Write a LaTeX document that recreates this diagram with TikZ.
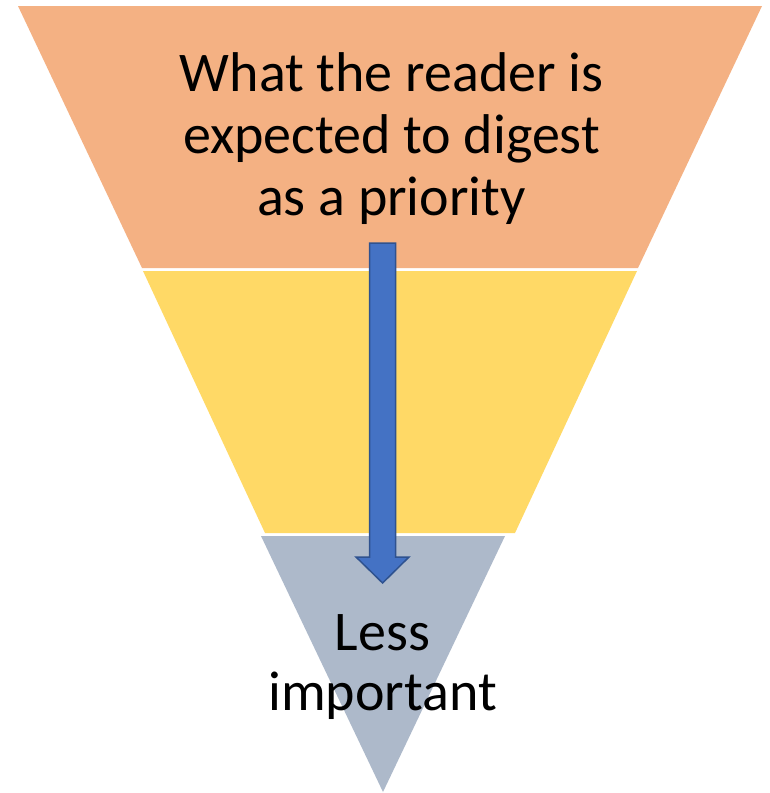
\documentclass[tikz,border=0pt]{standalone}
\usepackage{fontspec}
\setmainfont{Carlito}
\definecolor{bandorange}{HTML}{F4B183}
\definecolor{bandyellow}{HTML}{FFD966}
\definecolor{bandgray}{HTML}{ADB9CA}
\definecolor{arrowfill}{HTML}{4472C4}
\definecolor{arrowline}{HTML}{2F528F}
\begin{document}
\begin{tikzpicture}[x=1pt,y=-1pt,
  txt/.style={anchor=base,inner sep=0pt,font=\fontsize{56}{62}\selectfont,text=black},
  txtsmall/.style={anchor=base,inner sep=0pt,font=\fontsize{56}{60}\selectfont,text=black}]
\useasboundingbox[fill=white] (0,0) rectangle (769,793);
\fill[bandorange] (18,6) -- (762,6) -- (638,268) -- (142,268) -- cycle;
\fill[bandyellow] (143,271) -- (637,271) -- (515,533) -- (265,533) -- cycle;
\fill[bandgray] (261,536) -- (505,536) -- (383,792) -- cycle;
\node[txt] (l1) at (391.5,91.7) {What the reader is};
\node[txt] (l2) at (391.5,153.2) {expected to digest};
\node[txt] (l3) at (391.5,215) {as a priority};
\node[txtsmall] (l4) at (382.5,650) {Less};
\node[txtsmall] (l5) at (382.5,710) {important};
\draw[arrowline,fill=arrowfill,line width=1.5pt,line join=miter]
  (369.5,243) -- (395.7,243) -- (395.7,557) -- (409,557) -- (382.6,583)
  -- (356,557) -- (369.5,557) -- cycle;
\end{tikzpicture}
\end{document}
